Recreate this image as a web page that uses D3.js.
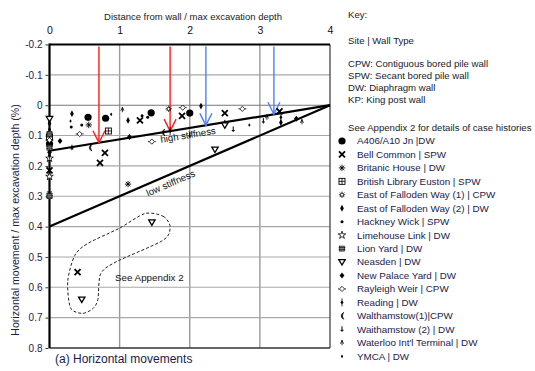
<!DOCTYPE html>
<html>
<head>
<meta charset="utf-8">
<script src="https://cdn.jsdelivr.net/npm/d3@7"></script>
<style>
  html, body { margin: 0; padding: 0; background: #fff; }
  svg text { font-family: "Liberation Sans", Arial, sans-serif; }
</style>
</head>
<body>
<svg id="chart" width="535" height="371"></svg>
<script>
// ---- axis ticks ----
const xTicks = [0, 1, 2, 3, 4];
const yTicks = [-0.2, -0.1, 0, 0.1, 0.2, 0.3, 0.4, 0.5, 0.6, 0.7, 0.8];
const yTickLabels = ["-0.2", "-0.1", "0", "0.1", "0.2", "0.3", "0.4", "0.5", "0.6", "0.7", "0.8"];

// ---- design envelopes: [distance, movement] end points ----
const highStiffness = [[0, 0.15], [4, 0]];
const lowStiffness = [[0, 0.4], [4, 0]];

// ---- arrows dropping onto the high stiffness envelope ----
const arrowX = [0.705, 1.72, 2.23, 3.2];
const arrowColour = ["red", "red", "blue", "blue"];

// ---- outline around the two outlying cases ----
const appendixLoop = [
  [1.36, 0.357], [1.62, 0.366], [1.72, 0.40], [1.62, 0.445], [0.96, 0.515],
  [0.73, 0.555], [0.69, 0.64], [0.62, 0.67], [0.47, 0.686], [0.30, 0.668],
  [0.26, 0.58], [0.36, 0.495], [0.55, 0.455], [1.0, 0.405]
];

// ---- case history observations: [distance / depth, movement / depth %] ----
const a406 = [[0.55, 0.04], [0.80, 0.043], [1.45, 0.025], [2.0, 0.026], [0.0, 0.127]];
const bellCommon = [[0.79, 0.157], [0.72, 0.19], [1.29, 0.05], [1.89, 0.035], [2.5, 0.026], [3.28, 0.02], [0.40, 0.55], [0.0, 0.215]];
const britanicHouse = [[1.12, 0.26], [0.56, 0.065]];
const britishLibrary = [[0.84, 0.085], [0.0, 0.105]];
const eastFalloden1 = [[1.70, 0.012], [0.0, 0.29]];
const eastFalloden2 = [[0.32, 0.028], [1.12, 0.05], [2.16, 0.003], [3.30, 0.057], [2.50, 0.058], [0.0, 0.06]];
const hackneyWick = [[0.31, 0.072], [0.46, 0.065], [1.32, 0.035], [1.40, 0.04], [0.0, 0.08]];
const limehouseLink = [[0.0, 0.175], [0.0, 0.235]];
const lionYard = [[0.0, 0.095], [0.0, 0.3], [0.0, 0.14]];
const neasden = [[1.46, 0.386], [2.36, 0.146], [0.46, 0.64], [2.50, 0.066], [0.0, 0.045]];
const newPalaceYard = [[3.52, 0.045], [0.15, 0.118], [1.14, 0.105], [0.0, 0.155]];
const rayleighWeir = [[1.46, 0.12], [1.90, 0.008], [2.75, 0.012], [0.43, 0.095], [0.0, 0.115]];
const reading = [[3.30, 0.04], [1.72, 0.085], [0.0, 0.165]];
const walthamstow1 = [[0.58, 0.14], [1.62, 0.09]];
const walthamstow2 = [[0.32, 0.14], [2.62, 0.08], [2.0, 0.098], [3.05, 0.052]];
const waterloo = [[1.04, 0.015], [3.1, 0.04], [3.6, 0.055]];
const ymca = [[0.30, 0.052], [2.85, 0.065], [0.88, 0.03]];

const seriesNames = [
  "A406/A10 Jn  |DW", "Bell Common | SPW", "Britanic House | DW", "British Library Euston | SPW",
  "East of Falloden Way (1) | CPW", "East of Falloden Way (2) | DW", "Hackney Wick | SPW",
  "Limehouse Link | DW", "Lion Yard | DW", "Neasden | DW", "New Palace Yard | DW",
  "Rayleigh Weir | CPW", "Reading | DW", "Walthamstow(1)|CPW", "Waithamstow (2) | DW",
  "Waterloo Int'l Terminal | DW", "YMCA | DW"
];
const seriesData = [
  a406, bellCommon, britanicHouse, britishLibrary, eastFalloden1, eastFalloden2, hackneyWick,
  limehouseLink, lionYard, neasden, newPalaceYard, rayleighWeir, reading, walthamstow1,
  walthamstow2, waterloo, ymca
];
const seriesSymbols = [
  "bigDot", "cross", "asterisk", "gridSquare", "sun", "tallDiamond", "smallDot",
  "star", "hatchSquare", "triDown", "diamond", "openDiamond", "stemDiamond", "crescent",
  "tick", "caret", "speck"
];

const keyLines = [
  "Key:", "Site | Wall Type", "CPW: Contiguous bored pile wall", "SPW: Secant bored pile wall",
  "DW: Diaphragm wall", "KP: King post wall", "See Appendix 2 for details of case histories"
];

// ---------------------------------------------------------------
const svg = d3.select("#chart");
svg.append("rect").attr("width", 535).attr("height", 371).attr("fill", "#fff");

const x = d3.scaleLinear().domain([0, 4]).range([49.5, 330]);
const y = d3.scaleLinear().domain([-0.2, 0.8]).range([44.5, 348]);
const navy = "#1b1b4a";

// grid
const grid = svg.append("g");
grid.selectAll("line.v").data(xTicks.slice(1, -1)).join("line")
  .attr("x1", d => x(d)).attr("x2", d => x(d))
  .attr("y1", y(-0.2)).attr("y2", y(0.8))
  .attr("stroke", "#9a9a9a").attr("stroke-width", 1.4);
grid.selectAll("line.h").data(yTicks.slice(1, -1)).join("line")
  .attr("x1", x(0)).attr("x2", x(4))
  .attr("y1", d => y(d)).attr("y2", d => y(d))
  .attr("stroke", d => d === 0 ? "#777" : "#a8a8a8").attr("stroke-width", 1.1);

// frame
svg.append("line").attr("x1", x(4)).attr("x2", x(4)).attr("y1", y(-0.2)).attr("y2", y(0.8))
  .attr("stroke", "#444").attr("stroke-width", 1.3);
svg.append("line").attr("x1", x(0)).attr("x2", x(4)).attr("y1", y(0.8)).attr("y2", y(0.8))
  .attr("stroke", "#333").attr("stroke-width", 1.5);
svg.append("line").attr("x1", x(0)).attr("x2", x(4)).attr("y1", y(-0.2)).attr("y2", y(-0.2))
  .attr("stroke", "#000").attr("stroke-width", 2.2);
svg.append("line").attr("x1", x(0)).attr("x2", x(0)).attr("y1", y(-0.2) - 1).attr("y2", y(0.8))
  .attr("stroke", "#000").attr("stroke-width", 2.2);

// axes
const xAxis = svg.append("g").attr("transform", `translate(0,${y(-0.2) - 11})`)
  .call(d3.axisTop(x).tickValues(xTicks).tickFormat(d3.format("d")).tickSize(0).tickPadding(0));
xAxis.select(".domain").remove();
xAxis.selectAll("text").attr("font-size", 10.5).attr("fill", "#111");

const yAxis = svg.append("g").attr("transform", `translate(${x(0) - 1},0)`)
  .call(d3.axisLeft(y).tickValues(yTicks).tickFormat((d, i) => yTickLabels[i]).tickSize(3).tickPadding(3));
yAxis.select(".domain").remove();
yAxis.selectAll("line").attr("stroke", "#333");
yAxis.selectAll("text").attr("font-size", 10).attr("fill", navy);

svg.append("text").attr("x", 193).attr("y", 20).attr("text-anchor", "middle")
  .attr("font-size", 9.5).attr("fill", "#222")
  .text("Distance from wall / max excavation depth");

svg.append("text").attr("transform", `translate(19,220) rotate(-90)`)
  .attr("text-anchor", "middle").attr("font-size", 10.6).attr("fill", navy)
  .text("Horizontal movement / max excavation depth (%)");

svg.append("text").attr("x", 55).attr("y", 363).attr("font-size", 12).attr("fill", navy)
  .text("(a) Horizontal movements");

// envelopes
const lineGen = d3.line().x(d => x(d[0])).y(d => y(d[1]));
svg.append("path").datum(highStiffness).attr("d", lineGen)
  .attr("stroke", "#000").attr("stroke-width", 2.2).attr("fill", "none");
svg.append("path").datum(lowStiffness).attr("d", lineGen)
  .attr("stroke", "#000").attr("stroke-width", 2.2).attr("fill", "none");

function slopeAngle(seg) {
  const dx = x(seg[1][0]) - x(seg[0][0]);
  const dy = y(seg[1][1]) - y(seg[0][1]);
  return Math.atan2(dy, dx) * 180 / Math.PI;
}
function onLine(seg, t) {
  return seg[0][1] + (seg[1][1] - seg[0][1]) * (t - seg[0][0]) / (seg[1][0] - seg[0][0]);
}
{
  const a = slopeAngle(highStiffness);
  svg.append("text")
    .attr("transform", `translate(${x(1.96)},${y(onLine(highStiffness, 1.96))}) rotate(${a}) translate(0,10)`)
    .attr("text-anchor", "middle").attr("font-size", 9.6).attr("fill", "#111").text("high stiffness");
  const b = slopeAngle(lowStiffness);
  svg.append("text")
    .attr("transform", `translate(${x(1.68)},${y(onLine(lowStiffness, 1.68))}) rotate(${b}) translate(0,11.5)`)
    .attr("text-anchor", "middle").attr("font-size", 9.6).attr("fill", "#111").text("low stiffness");
}

// dashed outline + note
svg.append("path").datum(appendixLoop)
  .attr("d", d3.line().x(d => x(d[0])).y(d => y(d[1])).curve(d3.curveCardinalClosed.tension(0.2)))
  .attr("fill", "none").attr("stroke", "#222").attr("stroke-width", 1).attr("stroke-dasharray", "3,2");
svg.append("text").attr("x", 115).attr("y", 281).attr("font-size", 9.8).attr("fill", "#111")
  .text("See Appendix  2");

// arrows
const colours = { red: "#ff1a1a", blue: "#4f7dff" };
arrowX.forEach((ax, i) => {
  const g = svg.append("g").attr("stroke", colours[arrowColour[i]]).attr("stroke-width", 1.4).attr("fill", "none");
  const tipY = y(onLine(highStiffness, ax));
  const px = x(ax);
  g.append("line").attr("x1", px).attr("x2", px).attr("y1", y(-0.2) + 2).attr("y2", tipY);
  g.append("path").attr("d", `M${px - 6},${tipY - 12}L${px},${tipY}L${px + 6},${tipY - 12}`);
});

// marker shapes
function drawMarker(g, kind) {
  const k = "#000";
  switch (kind) {
    case "bigDot":
      g.append("circle").attr("r", 3.6).attr("fill", k); break;
    case "cross":
      g.append("path").attr("d", "M-3,-3L3,3M-3,3L3,-3").attr("stroke", k).attr("stroke-width", 1.8); break;
    case "asterisk":
      g.append("path").attr("d", "M-3.2,0L3.2,0M0,-3.2L0,3.2M-2.3,-2.3L2.3,2.3M-2.3,2.3L2.3,-2.3")
        .attr("stroke", k).attr("stroke-width", 0.9); break;
    case "gridSquare":
      g.append("rect").attr("x", -3).attr("y", -3).attr("width", 6).attr("height", 6)
        .attr("fill", "#fff").attr("stroke", k).attr("stroke-width", 0.9);
      g.append("path").attr("d", "M0,-3L0,3M-3,0L3,0").attr("stroke", k).attr("stroke-width", 0.8); break;
    case "sun":
      g.append("circle").attr("r", 1.6).attr("fill", "none").attr("stroke", k).attr("stroke-width", 0.8);
      g.append("path").attr("d", "M-3.2,0L-1.8,0M1.8,0L3.2,0M0,-3.2L0,-1.8M0,1.8L0,3.2M-2.3,-2.3L-1.3,-1.3M1.3,1.3L2.3,2.3M-2.3,2.3L-1.3,1.3M1.3,-1.3L2.3,-2.3")
        .attr("stroke", k).attr("stroke-width", 0.8); break;
    case "tallDiamond":
      g.append("path").attr("d", "M0,-3.4L1.8,0L0,3.4L-1.8,0Z").attr("fill", k); break;
    case "smallDot":
      g.append("circle").attr("r", 1.5).attr("fill", k); break;
    case "star":
      g.append("path").attr("d", d3.symbol(d3.symbolStar, 18)()).attr("fill", "#fff")
        .attr("stroke", k).attr("stroke-width", 0.8); break;
    case "hatchSquare":
      g.append("rect").attr("x", -2.5).attr("y", -2.5).attr("width", 5).attr("height", 5)
        .attr("fill", "#888").attr("stroke", k).attr("stroke-width", 0.6);
      g.append("path").attr("d", "M-3.5,-1L3.5,-1M-3.5,1L3.5,1").attr("stroke", k).attr("stroke-width", 0.6); break;
    case "triDown":
      g.append("path").attr("d", "M-3.2,-2.4L3.2,-2.4L0,3Z").attr("fill", "#fff")
        .attr("stroke", k).attr("stroke-width", 1.3); break;
    case "diamond":
      g.append("path").attr("d", "M0,-3L2.4,0L0,3L-2.4,0Z").attr("fill", k); break;
    case "openDiamond":
      g.append("path").attr("d", "M0,-2.6L2.6,0L0,2.6L-2.6,0Z").attr("fill", "#fff")
        .attr("stroke", k).attr("stroke-width", 0.8);
      g.append("path").attr("d", "M-4,0L-2.6,0M2.6,0L4,0").attr("stroke", k).attr("stroke-width", 0.8); break;
    case "stemDiamond":
      g.append("path").attr("d", "M0,-1.8L1.6,0L0,1.8L-1.6,0Z").attr("fill", k);
      g.append("path").attr("d", "M0,-4L0,4").attr("stroke", k).attr("stroke-width", 0.8); break;
    case "crescent":
      g.append("path").attr("d", "M1.5,-3.4Q-3,0 1.5,3.4Q-1,0 1.5,-3.4Z").attr("fill", k)
        .attr("stroke", k).attr("stroke-width", 0.8); break;
    case "tick":
      g.append("path").attr("d", "M0,-3L0,2.5M-1.5,1L1.5,1").attr("stroke", k).attr("stroke-width", 1); break;
    case "caret":
      g.append("path").attr("d", "M-1.5,1L0,-2.5L1.5,1M0,-2.5L0,2.5").attr("fill", "none")
        .attr("stroke", k).attr("stroke-width", 0.8); break;
    case "speck":
      g.append("ellipse").attr("rx", 0.9).attr("ry", 1.5).attr("fill", k); break;
  }
}

// observations
const pts = svg.append("g");
seriesData.forEach((data, si) => {
  data.forEach(d => {
    const g = pts.append("g").attr("transform", `translate(${x(d[0])},${y(d[1])})`);
    drawMarker(g, seriesSymbols[si]);
  });
});

// key
const keyY = [18, 44, 67, 79, 91, 103, 131];
keyLines.forEach((t, i) => {
  svg.append("text").attr("x", 348).attr("y", keyY[i]).attr("font-size", 9.6)
    .attr("fill", "#1a1a2a").text(t);
});
seriesNames.forEach((name, i) => {
  const cy = 141 + i * 13.45;
  const g = svg.append("g").attr("transform", `translate(342,${cy})`);
  drawMarker(g, seriesSymbols[i]);
  svg.append("text").attr("x", 357).attr("y", cy + 3.4).attr("font-size", 9.8)
    .attr("fill", navy).text(name);
});
</script>
</body>
</html>
